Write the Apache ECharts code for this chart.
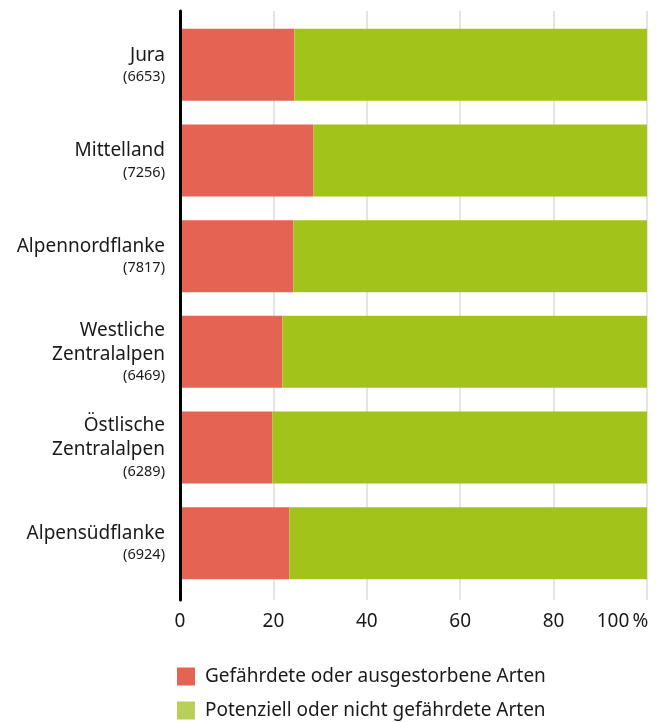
<!DOCTYPE html>
<html>
<head>
<meta charset="utf-8">
<script src="https://cdn.jsdelivr.net/npm/echarts@6/dist/echarts.min.js"></script>
<style>
  html, body { margin: 0; padding: 0; background: #fff; }
  #chart { width: 663px; height: 722px; }
</style>
</head>
<body>
<div id="chart"></div>
<script>
// Regionen und Anzahl Arten
const regions = ['Jura', 'Mittelland', 'Alpennordflanke', 'Westliche\nZentralalpen', 'Östlische\nZentralalpen', 'Alpensüdflanke']
const speciesCount = [6653, 7256, 7817, 6469, 6289, 6924]
// Anteile in %
const threatened = [24.5, 28.6, 24.3, 21.9, 19.8, 23.4]
const notThreatened = [75.5, 71.4, 75.7, 78.1, 80.2, 76.6]
const seriesNames = ['Gefährdete oder ausgestorbene Arten', 'Potenziell oder nicht gefährdete Arten']
const xTicks = [0, 20, 40, 60, 80, 100]

const fontFamily = '"Noto Sans", sans-serif'
const textColor = '#1a1a1a'
const red = '#E46352'
const green = '#A2C41A'
const greenLegend = '#B8CF58'

const chart = echarts.init(document.getElementById('chart'))

const option = {
  animation: false,
  textStyle: { fontFamily: fontFamily },
  grid: [
    // bars
    { left: 180, right: 16, top: 17, bottom: 131 },
    // gridlines + axis line (slightly taller)
    { left: 180, right: 16, top: 11, bottom: 122 }
  ],
  xAxis: [
    { gridIndex: 0, type: 'value', min: 0, max: 100, show: false },
    {
      gridIndex: 1,
      type: 'value',
      min: xTicks[0],
      max: xTicks[xTicks.length - 1],
      interval: 20,
      axisLine: { show: false },
      axisTick: { show: false },
      splitLine: { show: true, lineStyle: { color: '#dcdcdc', width: 1.5 } },
      axisLabel: {
        margin: 12,
        color: textColor,
        fontSize: 19,
        fontFamily: fontFamily,
        formatter: v => v === 100 ? '{r|100\u2009%}' : String(v),
        rich: {
          r: { fontSize: 19, fontFamily: fontFamily, color: textColor, padding: [0, 49, 0, 0] }
        }
      }
    }
  ],
  yAxis: [
    {
      gridIndex: 0,
      type: 'category',
      inverse: true,
      data: regions,
      axisLine: { show: false },
      axisTick: { show: false },
      axisLabel: {
        margin: 15,
        formatter: (value, idx) => {
          const lines = value.split('\n').map(s => '{m|' + s + '}')
          return lines.join('\n') + '\n{n|(' + speciesCount[idx] + ')}'
        },
        rich: {
          m: { fontSize: 19, lineHeight: 24, color: textColor, fontFamily: fontFamily, align: 'right' },
          n: { fontSize: 14.5, lineHeight: 19, color: textColor, fontFamily: fontFamily, align: 'right' }
        }
      }
    },
    {
      gridIndex: 1,
      type: 'value',
      min: 0,
      max: 1,
      z: 10,
      axisLine: { show: true, lineStyle: { color: '#000', width: 3 } },
      axisTick: { show: false },
      axisLabel: { show: false },
      splitLine: { show: false }
    }
  ],
  legend: {
    orient: 'vertical',
    left: 177,
    top: 667,
    padding: 0,
    itemWidth: 18,
    itemHeight: 18,
    itemGap: 15,
    icon: 'rect',
    textStyle: { fontSize: 19, color: textColor, fontFamily: fontFamily, padding: [0, 0, 0, 5] },
    data: [
      { name: seriesNames[0], itemStyle: { color: red } },
      { name: seriesNames[1], itemStyle: { color: greenLegend } }
    ]
  },
  series: [
    {
      name: seriesNames[0],
      type: 'bar',
      stack: 'total',
      xAxisIndex: 0,
      yAxisIndex: 0,
      barWidth: 72,
      itemStyle: { color: red },
      data: threatened
    },
    {
      name: seriesNames[1],
      type: 'bar',
      stack: 'total',
      xAxisIndex: 0,
      yAxisIndex: 0,
      barWidth: 72,
      itemStyle: { color: green },
      data: notThreatened
    }
  ]
}

chart.setOption(option)
</script>
</body>
</html>
